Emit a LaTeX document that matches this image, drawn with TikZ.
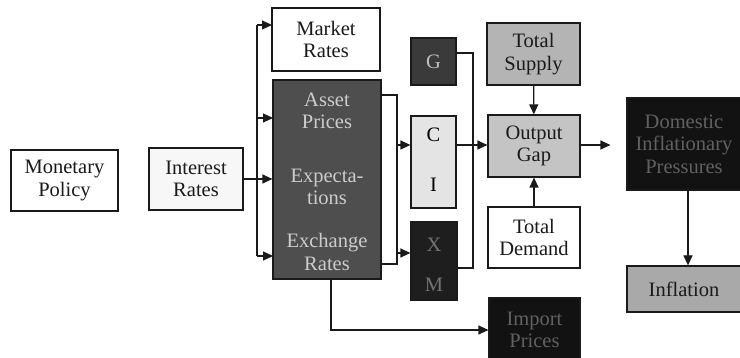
\documentclass[tikz,border=0pt]{standalone}
\usepackage{fontspec}
\setmainfont{Liberation Serif}
\usetikzlibrary{positioning,arrows.meta,calc}
\definecolor{transInk}{HTML}{1A1A1A}
\definecolor{transPaper}{HTML}{FFFFFF}
\definecolor{transMist}{HTML}{F7F7F7}
\definecolor{transPale}{HTML}{E4E4E4}
\definecolor{transLight}{HTML}{C4C4C4}
\definecolor{transMid}{HTML}{B4B4B4}
\definecolor{transStone}{HTML}{A9A9A9}
\definecolor{transSlate}{HTML}{4E4E4E}
\definecolor{transCoal}{HTML}{3A3A3A}
\definecolor{transNight}{HTML}{1E1E1E}
\definecolor{transBlack}{HTML}{121212}
\tikzset{
  transbox/.style={draw=transInk,line width=1.2pt,align=center,inner sep=2pt,
    text=transInk,font=\fontsize{20.5}{22.5}\selectfont},
  translabel/.style={align=center,inner sep=0pt,font=\fontsize{20.5}{22.5}\selectfont},
  transarrow/.style={-{Triangle[length=10pt,width=9pt]},line width=1.2pt,draw=transInk},
  transline/.style={line width=1.2pt,draw=transInk}
}
\begin{document}
\begin{tikzpicture}[x=1pt,y=-1pt]
  \useasboundingbox (0,0) rectangle (740,358);
  % left chain
  \node[transbox,fill=transPaper,minimum width=107pt,minimum height=61pt] (policy) at (64.5,180.5) {Monetary\\Policy};
  \node[transbox,fill=transMist,minimum width=94pt,minimum height=62pt] (interest) at (196,179) {Interest\\Rates};
  % channels
  \node[transbox,fill=transPaper,minimum width=108pt,minimum height=63pt] (market) at (326,39.5) {Market\\Rates};
  \node[transbox,fill=transSlate,minimum width=108pt,minimum height=199pt] (channels) at (327,179.5) {};
  \node[translabel,text=black!20] (asset) at (327,111) {Asset\\Prices};
  \node[translabel,text=black!20] (expect) at (327,187) {Expecta-\\tions};
  \node[translabel,text=black!20] (exchange) at (327,252) {Exchange\\Rates};
  % demand components
  \node[transbox,fill=transCoal,text=black!25,minimum width=45pt,minimum height=47pt] (gov) at (433.5,61.5) {G};
  \node[transbox,fill=transPale,minimum width=45pt,minimum height=92pt] (ci) at (433.5,162) {};
  \node[translabel] (cons) at (433.5,135) {C};
  \node[translabel] (inv) at (433.5,185) {I};
  \node[transbox,fill=transNight,minimum width=46pt,minimum height=78pt] (xm) at (434,261) {};
  \node[translabel,text=black!55] (exp) at (434,245) {X};
  \node[translabel,text=black!55] (imp) at (434,285) {M};
  % output gap
  \node[transbox,fill=transMid,minimum width=93pt,minimum height=62pt] (supply) at (533.5,54) {Total\\Supply};
  \node[transbox,fill=transLight,minimum width=92pt,minimum height=62pt] (gap) at (534,146) {Output\\Gap};
  \node[transbox,fill=transPaper,minimum width=92pt,minimum height=61pt] (demand) at (534,237.5) {Total\\Demand};
  \node[transbox,fill=transBlack,text=black!62,minimum width=91pt,minimum height=64pt] (import) at (534.5,330) {Import\\Prices};
  % prices
  \node[transbox,fill=transBlack,text=black!62,minimum width=114pt,minimum height=92pt] (pressure) at (684,144) {Domestic\\Inflationary\\Pressures};
  \node[transbox,fill=transStone,minimum width=114pt,minimum height=46pt] (inflation) at (684,289) {Inflation};
  % branching
  \coordinate (split) at (257,179);
  \coordinate (toMarket) at (272,25);
  \coordinate (toAsset) at (273,118);
  \coordinate (toExch) at (273,256);
  \draw[transline] (interest) -- (split);
  \draw[transline] (split |- toMarket) -- (split |- toExch);
  \draw[transarrow] (split |- toMarket) -- (toMarket);
  \draw[transarrow] (split |- toAsset) -- (toAsset);
  \draw[transarrow] (split) -- (split -| channels.west);
  \draw[transarrow] (split |- toExch) -- (toExch);
  % channels to C, I and X, M
  \coordinate (bus) at (397,95);
  \draw[transline] (channels.east |- bus) -- (bus) -- (397,264) -- (channels.east |- 0,264);
  \draw[transarrow] (397,145) -- (ci.west |- 0,145);
  \draw[transarrow] (397,253) -- (xm.west |- 0,253);
  \draw[transline] (gov.east |- 0,53) -- (473,53) -- (473,268) -- (xm.east |- 0,268);
  \draw[transarrow] (ci.east |- 0,145) -- (gap.west |- 0,145);
  \draw[transarrow] (channels.south -| 331,0) -- (331,330) -- (import.west |- 0,330);
  % output gap and inflation
  \draw[transarrow] (supply) -- (gap);
  \draw[transarrow] (demand) -- (gap);
  \draw[transarrow,shorten >=16pt] (gap.east |- 0,145) -- (pressure.west |- 0,145);
  \draw[transarrow] (pressure.south -| 688,0) -- (inflation.north -| 688,0);
\end{tikzpicture}
\end{document}
